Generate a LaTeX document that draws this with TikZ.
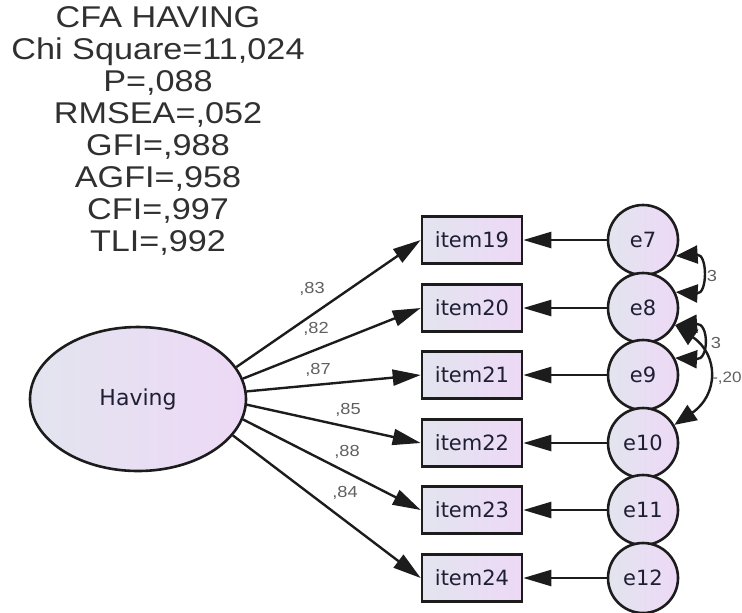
\documentclass[tikz,border=0pt]{standalone}
\usepackage{fontspec}
\usepackage{tikz}
\usetikzlibrary{arrows.meta,shapes.geometric}
\newfontfamily\statfont[FakeStretch=1.14]{Liberation Sans}
\newfontfamily\nodefont{DejaVu Sans}
\definecolor{dark}{HTML}{1C1C1C}
\definecolor{testo}{HTML}{303030}
\definecolor{grigio}{HTML}{606060}
\definecolor{lilla}{HTML}{EDD9F6}
\definecolor{ghiaccio}{HTML}{E3E4EF}
\definecolor{inchiostro}{HTML}{1F1F33}

\tikzset{
  var/.style={draw=dark, line width=1.3pt, left color=ghiaccio, right color=lilla,
    text=inchiostro, font=\nodefont\fontsize{10.5}{12}\selectfont},
  item/.style={var, rectangle, minimum width=50pt, minimum height=23.5pt, inner sep=0pt},
  err/.style={var, circle, minimum size=35pt, inner sep=0pt},
  freccia/.style={dark, line width=1.2pt, -{Triangle[length=14pt,width=8pt]}},
  cov/.style={dark, line width=1.2pt,
    {Triangle[length=11pt,width=9pt]}-{Triangle[length=11pt,width=9pt]}},
  peso/.style={text=grigio, font=\statfont\fontsize{8}{9}\selectfont},
}

\begin{document}
\begin{tikzpicture}[x=0.5pt, y=-0.5pt]
  \useasboundingbox (0,0) rectangle (742,612);

  % Indici di adattamento
  \node[text=testo, font=\statfont\fontsize{15}{16}\selectfont, align=center]
    (fit) at (158,131)
    {CFA HAVING\\Chi Square=11,024\\P=,088\\RMSEA=,052\\GFI=,988\\AGFI=,958\\CFI=,997\\TLI=,992};

  % Variabile latente
  \node[var, ellipse, minimum width=108pt, minimum height=72pt,
        font=\nodefont\fontsize{11}{13}\selectfont] (hav) at (138,399) {Having};

  % Indicatori
  \node[item] (i19) at (472,240) {item19};
  \node[item] (i20) at (472,308) {item20};
  \node[item] (i21) at (472,375) {item21};
  \node[item] (i22) at (472,443) {item22};
  \node[item] (i23) at (472,510) {item23};
  \node[item] (i24) at (472,578) {item24};

  % Errori
  \node[err] (e7)  at (643,240) {e7};
  \node[err] (e8)  at (643,308) {e8};
  \node[err] (e9)  at (643,375) {e9};
  \node[err] (e10) at (643,443) {e10};
  \node[err] (e11) at (643,510) {e11};
  \node[err] (e12) at (643,578) {e12};

  % Frecce errore -> item
  \draw[freccia] (e7)  -- (i19);
  \draw[freccia] (e8)  -- (i20);
  \draw[freccia] (e9)  -- (i21);
  \draw[freccia] (e10) -- (i22);
  \draw[freccia] (e11) -- (i23);
  \draw[freccia] (e12) -- (i24);

  % Saturazioni
  \draw[freccia] (hav.18)  -- (i19.west);
  \draw[freccia] (hav.11)  -- (i20.west);
  \draw[freccia] (hav.4)   -- (i21.west);
  \draw[freccia] (hav.-3)  -- (i22.west);
  \draw[freccia] (hav.-11) -- (i23.west);
  \draw[freccia] (hav.-21) -- (i24.west);

  % Etichette saturazioni
  \node[peso] (l19) at (312,289) {,83};
  \node[peso] (l20) at (316,329) {,82};
  \node[peso] (l21) at (318,370) {,87};
  \node[peso] (l22) at (348,410) {,85};
  \node[peso] (l23) at (347,452) {,88};
  \node[peso] (l24) at (345,493) {,84};

  % Covarianze tra errori
  \node[peso] (c78)  at (712,276) {3};
  \node[peso] (c89)  at (716,343) {3};
  \node[peso, font=\statfont\fontsize{7.5}{9}\selectfont] (c810) at (727,378) {-,20};
  \draw[cov] (e7.-26) .. controls +(32,-2) and +(32,2) .. (e8.26);
  \draw[cov] (e8.-28) .. controls +(34,-2) and +(34,2) .. (e9.28);
  \draw[cov] (e8.-28) .. controls +(44,30) and +(44,-30) .. (e10.30);
\end{tikzpicture}
\end{document}
